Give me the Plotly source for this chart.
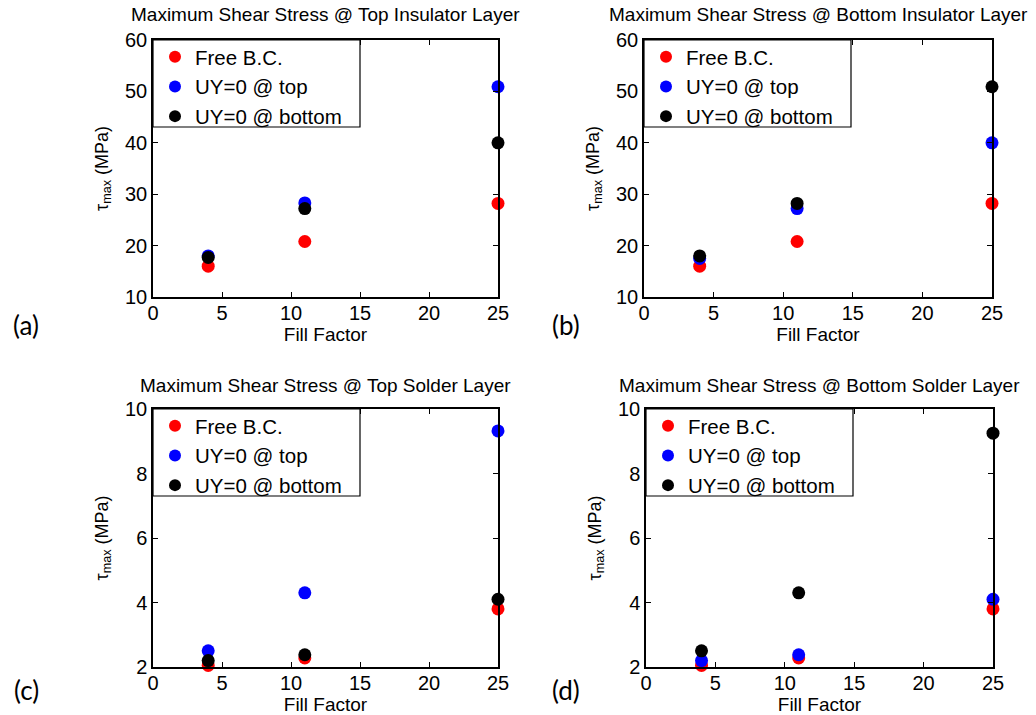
import plotly.graph_objects as go

fill_factor = [4, 11, 25]
series_names = ["Free B.C.", "UY=0 @ top", "UY=0 @ bottom"]
series_colors = ["#ff0000", "#0000ff", "#000000"]

# Panel (a): Top Insulator Layer
a_free = [16.0, 20.8, 28.2]
a_top = [18.0, 28.3, 50.9]
a_bottom = [17.7, 27.2, 40.0]
# Panel (b): Bottom Insulator Layer
b_free = [16.0, 20.8, 28.2]
b_top = [17.5, 27.2, 40.0]
b_bottom = [18.0, 28.2, 50.9]
# Panel (c): Top Solder Layer
c_free = [2.05, 2.28, 3.8]
c_top = [2.5, 4.3, 9.32]
c_bottom = [2.2, 2.38, 4.1]
# Panel (d): Bottom Solder Layer
d_free = [2.05, 2.28, 3.8]
d_top = [2.2, 2.38, 4.1]
d_bottom = [2.5, 4.3, 9.25]

titles = ["Maximum Shear Stress @ Top Insulator Layer",
          "Maximum Shear Stress @ Bottom Insulator Layer",
          "Maximum Shear Stress @ Top Solder Layer",
          "Maximum Shear Stress @ Bottom Solder Layer"]
panel_labels = ["(a)", "(b)", "(c)", "(d)"]
y_ranges = [[10, 60], [10, 60], [2, 10], [2, 10]]
y_dticks = [10, 10, 2, 2]
x_ticks = [0, 5, 10, 15, 20, 25]

W, H = 1036, 715
# pixel boxes: left, right, top, bottom
boxes = [(153, 498, 40, 297), (644, 992, 40, 297),
         (153, 498, 409, 667), (646, 993, 409, 667)]
legend_w, legend_h = 207, 87
label_pos = [(26, 325), (566, 325), (26, 690), (566, 690)]
title_y = [15, 15, 385, 385]

panels = [(a_free, a_top, a_bottom), (b_free, b_top, b_bottom),
          (c_free, c_top, c_bottom), (d_free, d_top, d_bottom)]

FONT = "Liberation Sans"
fig = go.Figure()
annotations = []
shapes = []
layout = {}
for i, (vals, box) in enumerate(zip(panels, boxes)):
    n = "" if i == 0 else str(i + 1)
    xa, ya = "x" + n, "y" + n
    lg = "legend" + n
    for name, col, v in zip(series_names, series_colors, vals):
        fig.add_trace(go.Scatter(
            x=fill_factor, y=v, mode="markers", name=name,
            marker=dict(color=col, size=13), xaxis=xa, yaxis=ya,
            legend=lg, cliponaxis=False))
    l, r, t, b = box
    xd = [l / W, r / W]
    yd = [1 - b / H, 1 - t / H]
    axis_common = dict(showline=True, mirror="ticks", linecolor="black",
                       linewidth=1.5, ticks="inside", ticklen=5,
                       tickcolor="black", showgrid=False, zeroline=False,
                       automargin=False,
                       tickfont=dict(family=FONT, size=20, color="black"))
    layout["xaxis" + n] = dict(domain=xd, range=[0, 25], tickvals=x_ticks,
                               anchor=ya, ticklabelstandoff=-3,
                               title=dict(text="Fill Factor", standoff=0,
                                          font=dict(family=FONT, size=19, color="black")),
                               **axis_common)
    layout["yaxis" + n] = dict(domain=yd, range=y_ranges[i], dtick=y_dticks[i],
                               anchor=xa,
                               title=dict(text="τ<sub>max</sub> (MPa)", standoff=12,
                                          font=dict(family=FONT, size=18, color="black")),
                               **axis_common)
    # legend frame
    shapes.append(dict(type="rect", xref="paper", yref="paper",
                       x0=l / W, x1=(l + legend_w) / W,
                       y0=1 - (t + legend_h) / H, y1=1 - t / H,
                       line=dict(color="black", width=1.2), fillcolor="white",
                       layer="above"))
    layout[lg] = dict(x=(l + 2) / W, y=1 - (t - 3) / H, xref="paper", yref="paper",
                      xanchor="left", yanchor="top",
                      borderwidth=0, bgcolor="rgba(0,0,0,0)",
                      font=dict(family=FONT, size=20.5, color="black"),
                      tracegroupgap=0, itemsizing="constant")
    annotations.append(dict(text=titles[i], x=(xd[0] + xd[1]) / 2, y=1 - title_y[i] / H,
                            xref="paper", yref="paper", showarrow=False,
                            xanchor="center", yanchor="middle",
                            font=dict(family=FONT, size=19, color="black")))
    lx, ly = label_pos[i]
    annotations.append(dict(text=panel_labels[i], x=lx / W, y=1 - ly / H,
                            xref="paper", yref="paper", showarrow=False,
                            xanchor="center", yanchor="middle",
                            font=dict(family="Lato", size=26, color="black")))

fig.update_layout(width=W, height=H, margin=dict(l=0, r=0, t=0, b=0, pad=0, autoexpand=False),
                  paper_bgcolor="white", plot_bgcolor="white",
                  showlegend=True, annotations=annotations, shapes=shapes, **layout)

fig.write_html("out.html", config={"displayModeBar": False},
               post_script="document.body.style.margin='0';document.body.style.overflow='hidden';")
